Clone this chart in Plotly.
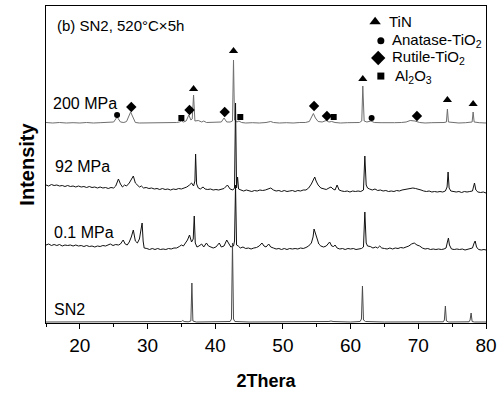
import plotly.graph_objects as go

# ---------------- data (2Theta in degrees, relative intensity, a.u.) ----------------
SERIES_NAMES = ["200 MPa", "92 MPa", "0.1 MPa", "SN2"]
SERIES_OFFSETS = [200, 130, 72, 0]

P200 = [(15, 0.5), (16, 0), (17, 0.5), (18, 0), (19, 0.3), (20, 0), (21, 0.5), (22, 0), (23, 0.3), (24, 0.5),
        (24.6, 0.5), (25.0, 1), (25.5, 6), (26.0, 1), (26.5, 0.5), (26.9, 1.5), (27.5, 11), (28.2, 0.5), (28.8, 0),
        (29.5, 0), (30.5, 0.3), (31.5, 0), (32.5, 0), (33.5, 0.3), (34.3, 0.5), (34.7, 1), (35.0, 2), (35.3, 1),
        (35.7, 2), (36.1, 8), (36.4, 3), (36.6, 4), (36.8, 28), (37.0, 2), (37.5, 2.5), (38.0, 1), (38.3, 2),
        (38.7, 0.5), (39.5, 0.5), (40.3, 0.5), (40.9, 1), (41.3, 5), (41.7, 1), (42.2, 1), (42.55, 2), (42.7, 63),
        (42.85, 3), (43.2, 1), (43.5, 2), (43.9, 0.5), (44.5, 0), (45.5, 0.3), (46.5, 0), (47.5, 0.5), (47.9, 1),
        (48.2, 1.5), (48.6, 0.5), (49.5, 0), (50.5, 0.3), (51.5, 0), (52.5, 0.5), (53.3, 0.5), (53.9, 1.5),
        (54.5, 9.5), (54.8, 5), (55.2, 1.5), (55.8, 1), (56.4, 2.5), (56.8, 1), (57.2, 1.5), (57.7, 0.5), (58.5, 0),
        (59.5, 0.3), (60.5, 0), (61.3, 0.5), (61.65, 2), (61.8, 37), (62.0, 2), (62.4, 1), (63.0, 2), (63.5, 0.5),
        (64.5, 0.3), (65.5, 0), (66.5, 0.3), (67.5, 0.5), (68.2, 1), (68.8, 2.5), (69.5, 2), (70.2, 0.5), (71, 0),
        (72, 0.3), (73, 0), (73.8, 0.5), (74.15, 1), (74.3, 14), (74.45, 1), (75, 0.5), (76, 0), (77, 0.3),
        (77.8, 0.5), (77.95, 1), (78.1, 11), (78.25, 1), (79, 0.3), (80, 0)]

P92 = [(15, 8), (15.4, 7), (15.8, 8.5), (16.2, 7.5), (16.6, 8), (17.0, 7), (17.4, 7.5), (17.8, 6.5), (18.2, 7.5),
       (18.6, 6.5), (19.0, 7), (19.4, 6), (19.8, 7), (20.2, 6), (20.6, 6.5), (21.0, 5.5), (21.4, 6.5), (21.8, 5.5),
       (22.2, 6), (22.6, 5), (23.0, 6), (23.4, 5), (23.8, 5.5), (24.2, 4.5), (24.6, 5.5), (25.0, 5), (25.3, 7),
       (25.7, 14), (26.0, 9), (26.3, 6), (26.6, 8), (26.9, 7), (27.3, 10), (27.6, 13), (27.9, 17), (28.2, 10),
       (28.5, 8), (28.8, 6), (29.1, 7), (29.4, 5), (29.8, 5.5), (30.2, 4.5), (30.6, 5), (31.0, 4), (31.4, 4.5),
       (31.8, 3.5), (32.2, 4.5), (32.6, 3.5), (33.0, 4), (33.4, 3), (33.8, 4), (34.2, 3.5), (34.6, 4.5), (35.0, 4),
       (35.4, 5), (35.8, 6), (36.2, 8), (36.5, 10), (36.8, 7), (37.0, 12), (37.1, 39), (37.25, 9), (37.5, 5),
       (37.8, 4), (38.2, 6), (38.5, 4), (38.9, 3.5), (39.3, 4), (39.7, 3), (40.1, 3.5), (40.5, 3), (40.9, 4),
       (41.3, 4.5), (41.8, 8), (42.2, 4), (42.6, 3), (42.85, 5), (43.0, 90), (43.15, 5), (43.3, 16), (43.45, 4),
       (43.8, 3), (44.2, 2), (44.6, 3), (45.0, 2.5), (45.4, 1.5), (45.8, 2.5), (46.2, 2), (46.6, 3), (47.0, 2.5),
       (47.4, 3), (47.8, 4), (48.2, 5), (48.6, 3), (49.0, 2), (49.4, 2.5), (49.8, 1.5), (50.2, 2.5), (50.6, 1.5),
       (51.0, 2), (51.4, 2.5), (51.8, 1.5), (52.2, 2.5), (52.6, 2), (53.0, 3), (53.4, 3), (53.8, 5), (54.2, 9),
       (54.5, 13), (54.7, 16), (54.9, 12), (55.2, 8), (55.6, 5), (56.0, 4), (56.4, 3.5), (56.8, 5), (57.1, 6),
       (57.4, 4), (57.7, 3), (58.0, 8), (58.3, 3), (58.7, 2), (59.1, 1.5), (59.5, 2), (59.9, 1), (60.3, 2),
       (60.7, 1.5), (61.1, 2), (61.5, 1.5), (61.9, 3), (62.1, 37), (62.3, 8), (62.5, 5), (62.8, 4), (63.2, 3),
       (63.6, 4), (64.0, 2.5), (64.4, 3), (64.8, 2), (65.2, 2.5), (65.6, 1.5), (66.0, 2), (66.4, 1.5), (66.8, 2.5),
       (67.2, 2), (67.6, 3), (68.0, 3.5), (68.4, 4), (68.8, 4.5), (69.2, 5), (69.6, 4.5), (70.0, 4), (70.4, 3),
       (70.8, 2), (71.2, 1.5), (71.6, 2), (72.0, 1), (72.4, 1.5), (72.8, 1), (73.2, 1.5), (73.6, 1), (74.0, 2),
       (74.25, 6), (74.4, 21), (74.55, 5), (74.8, 2), (75.2, 1.5), (75.6, 1), (76.0, 1.5), (76.4, 0.5), (76.8, 1.5),
       (77.2, 1), (77.6, 1.5), (78.0, 2), (78.3, 10), (78.5, 3), (78.8, 1), (79.2, 0.5), (79.6, 1), (80.0, 0)]

P01 = [(15, 6), (15.4, 7), (15.8, 5.5), (16.2, 6.5), (16.6, 5.5), (17.0, 6.5), (17.4, 5), (17.8, 6), (18.2, 5.5),
       (18.6, 6), (19.0, 5), (19.4, 6), (19.8, 5), (20.2, 5.5), (20.6, 4.5), (21.0, 5.5), (21.4, 4.5), (21.8, 5),
       (22.2, 4), (22.6, 5), (23.0, 4.5), (23.4, 5.5), (23.8, 5), (24.2, 6), (24.5, 7), (24.9, 5.5), (25.3, 6.5),
       (25.7, 6), (26.0, 7), (26.4, 11), (26.7, 7), (27.0, 6), (27.3, 9), (27.6, 14), (27.9, 21), (28.2, 10),
       (28.5, 8), (28.8, 12), (29.05, 20), (29.2, 28), (29.35, 10), (29.5, 3), (29.9, 2.5), (30.3, 1.5), (30.7, 2.5),
       (31.1, 1.5), (31.5, 2.5), (31.9, 1.5), (32.3, 2), (32.7, 1.5), (33.1, 2.5), (33.5, 2), (33.9, 3), (34.3, 3),
       (34.7, 4.5), (35.0, 6), (35.3, 5), (35.6, 8), (35.9, 11), (36.2, 16), (36.5, 9), (36.75, 12), (36.9, 35),
       (37.05, 8), (37.3, 4), (37.6, 5), (38.0, 7), (38.3, 4), (38.7, 8), (39.0, 5), (39.3, 4), (39.7, 3), (40.1, 4),
       (40.6, 8), (40.9, 4), (41.3, 5), (41.7, 11), (42.0, 7), (42.3, 4), (42.7, 5), (42.85, 10), (43.0, 66),
       (43.15, 6), (43.4, 5), (43.7, 3), (44.1, 4), (44.5, 2.5), (44.9, 3), (45.3, 2), (45.7, 3), (46.1, 3.5),
       (46.5, 5), (46.9, 8), (47.2, 5), (47.5, 4), (47.9, 7), (48.2, 4), (48.6, 3), (49.0, 2), (49.4, 2.5),
       (49.8, 1.5), (50.2, 2.5), (50.6, 1.5), (51.0, 2.5), (51.4, 2), (51.8, 2.5), (52.2, 2), (52.6, 3), (53.0, 2.5),
       (53.4, 3.5), (53.8, 5), (54.2, 8), (54.45, 14), (54.6, 22), (54.8, 18), (55.0, 12), (55.3, 7), (55.6, 5),
       (56.0, 4), (56.4, 5), (56.9, 9), (57.2, 5), (57.5, 4.5), (57.7, 6), (58.0, 3), (58.4, 2), (58.8, 2.5),
       (59.2, 1.5), (59.6, 2.5), (60.0, 2), (60.4, 2.5), (60.8, 1.5), (61.2, 2), (61.6, 2.5), (61.9, 4), (62.1, 39),
       (62.3, 8), (62.5, 5), (62.9, 4.5), (63.3, 3), (63.7, 4), (64.0, 3), (64.3, 5), (64.6, 3), (65.0, 2.5),
       (65.4, 2), (65.8, 3), (66.2, 2), (66.6, 3), (67.0, 2.5), (67.4, 3.5), (67.8, 3), (68.2, 4), (68.6, 5),
       (69.0, 7), (69.4, 8), (69.8, 6), (70.2, 5), (70.6, 3), (71.0, 2), (71.4, 2.5), (71.8, 1.5), (72.2, 2),
       (72.6, 1.5), (73.0, 2), (73.4, 1.5), (73.8, 2), (74.1, 3), (74.3, 9), (74.45, 13), (74.6, 6), (74.9, 2),
       (75.3, 1.5), (75.7, 2), (76.1, 1.5), (76.5, 2), (76.9, 1), (77.3, 2), (77.7, 2.5), (78.0, 3), (78.25, 8),
       (78.4, 10), (78.6, 4), (78.9, 1.5), (79.3, 1), (79.7, 1.5), (80.0, 1)]

PSN2 = [(15, 1), (20, 1), (25, 1.2), (30, 1), (34.5, 1), (35.0, 1.5), (35.2, 2.5), (35.4, 1.5), (36.0, 1.2),
        (36.4, 2), (36.55, 40), (36.7, 2), (37.2, 1), (40, 1), (42.2, 1.5), (42.4, 4), (42.55, 80), (42.7, 4),
        (42.9, 1.5), (45, 1), (50, 1), (55, 1), (56.8, 1.5), (57.1, 2), (57.4, 1.5), (60, 1), (61.4, 1.5),
        (61.6, 4), (61.75, 37), (61.9, 3), (62.2, 1.5), (65, 1), (70, 1), (73.7, 1.2), (73.85, 3), (74.0, 17),
        (74.15, 2), (74.5, 1), (77.5, 1.2), (77.65, 3), (77.8, 10), (77.95, 1.5), (78.3, 1), (80, 1)]

SERIES_POINTS = [P200, P92, P01, PSN2]
SERIES_COLORS = ["#6e6e6e", "#111111", "#111111", "#4a4a4a"]

# phase markers (2Theta, marker height in the same a.u.)
PHASES = ["TiN", "Anatase-TiO<sub>2</sub>", "Rutile-TiO<sub>2</sub>", "Al<sub>2</sub>O<sub>3</sub>"]
PHASE_SYMBOLS = ["triangle-up", "circle", "diamond", "square"]
PHASE_SIZES = [8, 6, 8, 6]
TIN_X = [36.8, 42.7, 61.8, 74.3, 78.1]
TIN_Y = [234, 272, 244, 223, 219]
ANATASE_X = [25.5, 63.1]
ANATASE_Y = [208, 205]
RUTILE_X = [27.6, 36.2, 41.4, 54.6, 56.5, 69.8]
RUTILE_Y = [216, 213, 211, 217, 207, 207]
AL2O3_X = [35.0, 43.7, 57.5]
AL2O3_Y = [205, 206, 206]
PHASE_X = [TIN_X, ANATASE_X, RUTILE_X, AL2O3_X]
PHASE_Y = [TIN_Y, ANATASE_Y, RUTILE_Y, AL2O3_Y]

X_TICKS = [20, 30, 40, 50, 60, 70, 80]
FONT = "Arial, Liberation Sans, sans-serif"

# legend key layout (paper coordinates of the plot area)
KEY_SYM_X = [0.748, 0.761, 0.755, 0.761]
KEY_TXT_X = [0.775, 0.782, 0.782, 0.789]
KEY_Y = [0.950, 0.890, 0.836, 0.779]
KEY_SIZES = [10, 7, 11, 7]

fig = go.Figure()
for name, pts, off, col in zip(SERIES_NAMES, SERIES_POINTS, SERIES_OFFSETS, SERIES_COLORS):
    fig.add_trace(go.Scatter(
        x=[p[0] for p in pts], y=[p[1] + off for p in pts], mode="lines",
        line=dict(color=col, width=1), name=name, showlegend=False, hoverinfo="skip"))

for ph, sym, sz, xs, ys in zip(PHASES, PHASE_SYMBOLS, PHASE_SIZES, PHASE_X, PHASE_Y):
    fig.add_trace(go.Scatter(
        x=xs, y=ys, mode="markers", name=ph, showlegend=False, hoverinfo="skip",
        marker=dict(symbol=sym, size=sz, color="black", line=dict(width=0))))

# key symbols drawn on an overlay axis that spans the plot area in [0, 1]
for ph, sym, ks, kx, ky, tx in zip(PHASES, PHASE_SYMBOLS, KEY_SIZES, KEY_SYM_X, KEY_Y, KEY_TXT_X):
    fig.add_trace(go.Scatter(
        x=[kx], y=[ky], xaxis="x2", yaxis="y2", mode="markers", showlegend=False, hoverinfo="skip",
        marker=dict(symbol=sym, size=ks, color="black", line=dict(width=0))))
    fig.add_annotation(text=ph, x=tx, y=ky, xref="paper", yref="paper", xanchor="left",
                       yanchor="middle", showarrow=False, font=dict(size=15, color="black", family=FONT))

label_pos = [("(b) SN2, 520°C×5h", 0.02, 0.940, 15),
             ("200 MPa", 0.011, 0.694, 16),
             ("92 MPa", 0.016, 0.495, 16),
             ("0.1 MPa", 0.014, 0.284, 16),
             ("SN2", 0.014, 0.044, 16)]
for txt, xp, yp, fs in label_pos:
    fig.add_annotation(text=txt, x=xp, y=yp, xref="paper", yref="paper", xanchor="left",
                       yanchor="middle", showarrow=False, font=dict(size=fs, color="black", family=FONT))

fig.update_layout(
    width=500, height=395,
    margin=dict(l=46, r=14, t=6, b=72, autoexpand=False),
    plot_bgcolor="white", paper_bgcolor="white",
    font=dict(family=FONT, color="black"),
    showlegend=False,
    hovermode=False,
    xaxis=dict(range=[15, 80], tickvals=X_TICKS, ticks="outside", ticklen=5, tickwidth=1,
               tickcolor="black", showline=True, linecolor="black", linewidth=1, mirror=True,
               showgrid=False, zeroline=False, tickfont=dict(size=19, family=FONT), automargin=False,
               minor=dict(dtick=5, tick0=15, ticks="outside", ticklen=3, tickcolor="black", showgrid=False),
               title=dict(text="<b>2Thera</b>", font=dict(size=18, family=FONT), standoff=19)),
    yaxis=dict(range=[0, 317], showticklabels=False, ticks="", showline=True, linecolor="black",
               linewidth=1, mirror=True, showgrid=False, zeroline=False, automargin=False,
               title=dict(text="<b>Intensity</b>", font=dict(size=20, family=FONT), standoff=5)),
    xaxis2=dict(range=[0, 1], overlaying="x", visible=False, fixedrange=True),
    yaxis2=dict(range=[0, 1], overlaying="y", visible=False, fixedrange=True),
)

fig.write_html("out.html", config={"displayModeBar": False},
               post_script="document.body.style.margin='0px';")
